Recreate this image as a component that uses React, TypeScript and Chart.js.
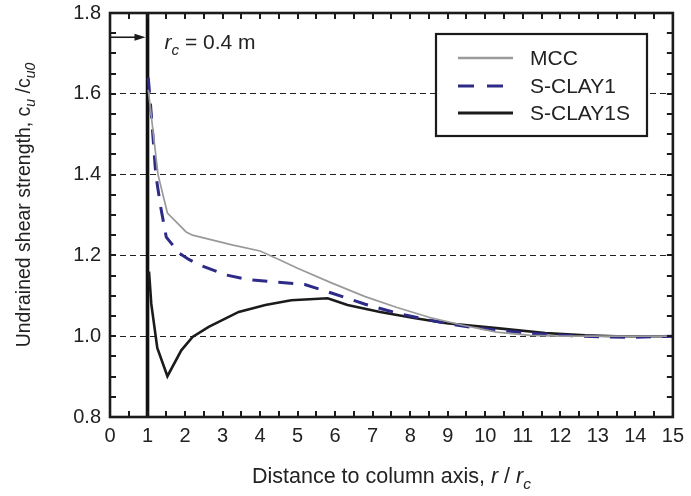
import React, { useEffect, useRef } from "react";
import { Chart, registerables } from "chart.js";

Chart.register(...registerables);

// ---- axis ranges / ticks ----
const xMin = 0;
const xMax = 15;
const yMin = 0.8;
const yMax = 1.8;
const xTickStep = 1;
const yTickStep = 0.2;
const xMinorStep = 0.5;
const yMinorStep = 0.05;

// ---- series ----
const seriesNames = ["MCC", "S-CLAY1", "S-CLAY1S"];

const mccR = [1.02, 1.28, 1.53, 2.03, 2.2, 3.25, 4.0, 4.5, 5.0, 5.9, 6.8, 7.65, 8.5, 9.4, 10.3, 11.2, 12.0, 13.0, 14.0, 15.0];
const mccCu = [1.61, 1.40, 1.305, 1.258, 1.25, 1.226, 1.211, 1.19, 1.168, 1.132, 1.098, 1.071, 1.047, 1.027, 1.01, 1.002, 1.0, 1.0, 1.0, 1.0];

const sclay1R = [1.02, 1.1, 1.22, 1.35, 1.5, 1.85, 2.1, 2.4, 3.07, 3.69, 4.57, 5.19, 5.9, 6.8, 7.65, 8.5, 9.4, 10.3, 11.2, 12.5, 13.8, 15.0];
const sclay1Cu = [1.64, 1.55, 1.40, 1.32, 1.245, 1.205, 1.19, 1.176, 1.152, 1.14, 1.133, 1.128, 1.107, 1.079, 1.057, 1.04, 1.025, 1.015, 1.007, 1.0, 0.997, 1.0];

const sclay1sR = [1.04, 1.1, 1.26, 1.53, 1.9, 2.2, 2.63, 3.43, 4.14, 4.83, 5.8, 6.33, 7.2, 8.1, 8.97, 10.3, 11.6, 12.66, 13.5, 15.0];
const sclay1sCu = [1.16, 1.08, 0.971, 0.901, 0.965, 0.998, 1.023, 1.06, 1.077, 1.089, 1.094, 1.077, 1.06, 1.045, 1.032, 1.02, 1.008, 1.002, 1.0, 1.0];

// column edge marker and annotation
const columnR = 1;
const arrowLevel = 1.74;
const annotationLevel = 1.74;

const FONT = "'Liberation Sans', Arial, Helvetica, sans-serif";
const colors = ["#9a9a9a", "#2e2b88", "#1b1b1b"];

const zip = (xs: number[], ys: number[]) => xs.map((x, i) => ({ x, y: ys[i] }));

type Seg = { t: string; it?: boolean; sub?: boolean };

function richWidth(ctx: CanvasRenderingContext2D, segs: Seg[], size: number) {
  let w = 0;
  for (const s of segs) {
    const sz = s.sub ? size * 0.72 : size;
    ctx.font = `${s.it ? "italic " : ""}${sz}px ${FONT}`;
    w += ctx.measureText(s.t).width;
  }
  return w;
}

function drawRich(ctx: CanvasRenderingContext2D, segs: Seg[], x: number, y: number, size: number) {
  let cx = x;
  ctx.textBaseline = "alphabetic";
  ctx.textAlign = "left";
  for (const s of segs) {
    const sz = s.sub ? size * 0.72 : size;
    ctx.font = `${s.it ? "italic " : ""}${sz}px ${FONT}`;
    ctx.fillText(s.t, cx, s.sub ? y + size * 0.28 : y);
    cx += ctx.measureText(s.t).width;
  }
}

const decorPlugin = {
  id: "decor",
  afterDatasetsDraw(chart: any) {
    const ctx: CanvasRenderingContext2D = chart.ctx;
    const { left, right, top, bottom } = chart.chartArea;
    const xs = chart.scales.x;
    const ys = chart.scales.y;
    ctx.save();
    ctx.strokeStyle = "#1b1b1b";
    ctx.fillStyle = "#1b1b1b";

    // inward ticks
    ctx.lineWidth = 2;
    const tl = 6;
    const nx = Math.round((xMax - xMin) / xMinorStep);
    for (let i = 0; i <= nx; i++) {
      const px = Math.round(xs.getPixelForValue(xMin + i * xMinorStep));
      ctx.beginPath();
      ctx.moveTo(px, bottom);
      ctx.lineTo(px, bottom - tl);
      ctx.moveTo(px, top);
      ctx.lineTo(px, top + tl);
      ctx.stroke();
    }
    const ny = Math.round((yMax - yMin) / yMinorStep);
    for (let i = 0; i <= ny; i++) {
      const py = Math.round(ys.getPixelForValue(yMin + i * yMinorStep));
      ctx.beginPath();
      ctx.moveTo(left, py);
      ctx.lineTo(left + tl, py);
      ctx.moveTo(right, py);
      ctx.lineTo(right - tl, py);
      ctx.stroke();
    }

    // frame
    ctx.lineWidth = 2.6;
    ctx.strokeRect(left, top, right - left, bottom - top);

    // arrow to the column edge
    const ay = ys.getPixelForValue(arrowLevel);
    const ax0 = xs.getPixelForValue(xMin);
    const ax1 = xs.getPixelForValue(columnR) - 2;
    ctx.lineWidth = 1.6;
    ctx.beginPath();
    ctx.moveTo(ax0, ay);
    ctx.lineTo(ax1 - 9, ay);
    ctx.stroke();
    ctx.beginPath();
    ctx.moveTo(ax1, ay);
    ctx.lineTo(ax1 - 11, ay - 3.5);
    ctx.lineTo(ax1 - 11, ay + 3.5);
    ctx.closePath();
    ctx.fill();

    // annotation r_c = 0.4 m
    ctx.fillStyle = "#222";
    drawRich(
      ctx,
      [{ t: "r", it: true }, { t: "c", it: true, sub: true }, { t: " = 0.4 m" }],
      xs.getPixelForValue(columnR) + 17,
      ys.getPixelForValue(annotationLevel) + 12,
      21
    );

    // legend
    const lx0 = 436, ly0 = 34, lx1 = 647, ly1 = 136;
    ctx.fillStyle = "#ffffff";
    ctx.fillRect(lx0, ly0, lx1 - lx0, ly1 - ly0);
    ctx.strokeStyle = "#1b1b1b";
    ctx.lineWidth = 2.2;
    ctx.strokeRect(lx0, ly0, lx1 - lx0, ly1 - ly0);
    const rows = [58, 86, 113];
    chart.data.datasets.slice(0, 3).forEach((ds: any, i: number) => {
      const yy = rows[i];
      ctx.save();
      ctx.strokeStyle = ds.borderColor;
      ctx.lineWidth = i === 0 ? 2.4 : 3.2;
      ctx.setLineDash(i === 1 ? [16, 13] : []);
      ctx.beginPath();
      ctx.moveTo(458, yy);
      ctx.lineTo(513, yy);
      ctx.stroke();
      ctx.restore();
      ctx.fillStyle = "#222";
      ctx.font = `21px ${FONT}`;
      ctx.textAlign = "left";
      ctx.textBaseline = "middle";
      ctx.fillText(ds.label, 530, yy + 1);
    });

    // x-axis title
    const xt: Seg[] = [
      { t: "Distance to column axis, " },
      { t: "r", it: true },
      { t: " / " },
      { t: "r", it: true },
      { t: "c", it: true, sub: true },
    ];
    ctx.fillStyle = "#222";
    const xw = richWidth(ctx, xt, 21.5);
    drawRich(ctx, xt, (left + right) / 2 - xw / 2, 483, 21.5);

    // y-axis title
    const yt: Seg[] = [
      { t: "Undrained shear strength, c" },
      { t: "u", it: true, sub: true },
      { t: " /c" },
      { t: "u0", it: true, sub: true },
    ];
    const yw = richWidth(ctx, yt, 19.5);
    ctx.save();
    ctx.translate(30, 205);
    ctx.rotate(-Math.PI / 2);
    drawRich(ctx, yt, -yw / 2, 0, 19.5);
    ctx.restore();

    ctx.restore();
  },
};

export default function App() {
  const ref = useRef<HTMLCanvasElement | null>(null);
  useEffect(() => {
    document.body.style.margin = "0";
    const canvas = ref.current!;
    const chart = new Chart(canvas, {
      type: "scatter",
      data: {
        datasets: [
          {
            label: seriesNames[0],
            data: zip(mccR, mccCu),
            showLine: true,
            borderColor: colors[0],
            backgroundColor: colors[0],
            borderWidth: 1.7,
            pointRadius: 0,
          },
          {
            label: seriesNames[1],
            data: zip(sclay1R, sclay1Cu),
            showLine: true,
            borderColor: colors[1],
            backgroundColor: colors[1],
            borderWidth: 3,
            borderDash: [15, 11],
            pointRadius: 0,
          },
          {
            label: seriesNames[2],
            data: zip(sclay1sR, sclay1sCu),
            showLine: true,
            borderColor: colors[2],
            backgroundColor: colors[2],
            borderWidth: 2.6,
            pointRadius: 0,
          },
          {
            label: "column",
            data: [
              { x: columnR, y: yMin },
              { x: columnR, y: yMax },
            ],
            showLine: true,
            borderColor: "#111",
            backgroundColor: "#111",
            borderWidth: 3.6,
            pointRadius: 0,
          },
        ],
      } as any,
      options: {
        animation: false,
        responsive: false,
        devicePixelRatio: 1,
        layout: { padding: { top: 13, right: 14, left: 0, bottom: 0 } },
        plugins: { legend: { display: false }, tooltip: { enabled: false } },
        scales: {
          x: {
            type: "linear",
            min: xMin,
            max: xMax,
            afterFit: (s: any) => {
              s.height = 79;
            },
            ticks: {
              stepSize: xTickStep,
              color: "#222",
              font: { family: FONT, size: 20 },
              padding: 7,
              maxRotation: 0,
            },
            grid: { display: false, drawTicks: false },
            border: { display: false },
          },
          y: {
            type: "linear",
            min: yMin,
            max: yMax,
            afterFit: (s: any) => {
              s.width = 110;
              s.paddingTop = 0;
              s.paddingBottom = 0;
            },
            ticks: {
              stepSize: yTickStep,
              color: "#222",
              font: { family: FONT, size: 20 },
              padding: 9,
              callback: (v: any) => Number(v).toFixed(1),
            },
            grid: {
              drawTicks: false,
              lineWidth: 1,
              color: (c: any) =>
                c.tick && (c.tick.value < yMin + 0.01 || c.tick.value > yMax - 0.01) ? "rgba(0,0,0,0)" : "#222",
            },
            border: { display: false, dash: [6, 4] },
          },
        },
      } as any,
      plugins: [decorPlugin],
    });
    return () => chart.destroy();
  }, []);
  return (
    <div style={{ position: "absolute", left: 0, top: 0, width: 691, height: 496, background: "#fff" }}>
      <canvas ref={ref} width={691} height={496} style={{ width: 691, height: 496 }} />
    </div>
  );
}
